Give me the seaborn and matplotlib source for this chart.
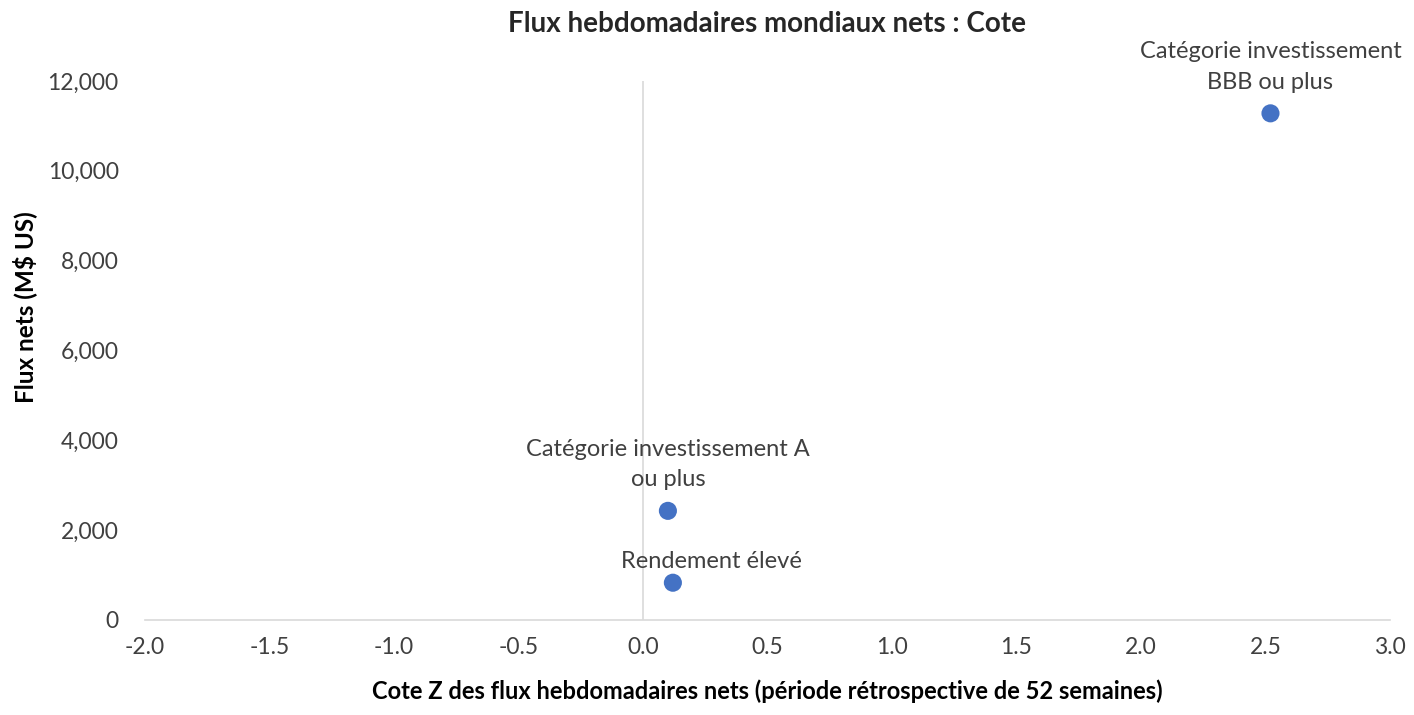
import matplotlib
matplotlib.use("Agg")
import matplotlib.pyplot as plt
import seaborn as sns
import pandas as pd
from matplotlib.ticker import FuncFormatter, MultipleLocator

categories = ["Catégorie investissement\nBBB ou plus",
              "Catégorie investissement A\nou plus",
              "Rendement élevé"]
z_scores = [2.52, 0.10, 0.12]
net_flows = [11280, 2430, 830]

df = pd.DataFrame({"cat": categories, "z": z_scores, "flow": net_flows})

sns.set_theme(style="white")
plt.rcParams['font.family'] = ['Lato', 'DejaVu Sans']

fig = plt.figure(figsize=(14.14, 7.15), dpi=100)
ax = fig.add_axes([145/1414, (715-620)/715, (1390-145)/1414, (620-81)/715])

sns.scatterplot(data=df, x="z", y="flow", ax=ax, color="#4472C4", s=170,
                edgecolor="none", zorder=3)

ax.set_xlim(-2, 3)
ax.set_ylim(0, 12000)
ax.xaxis.set_major_locator(MultipleLocator(0.5))
ax.yaxis.set_major_locator(MultipleLocator(2000))
ax.xaxis.set_major_formatter(FuncFormatter(lambda v, p: f"{v:.1f}"))
ax.yaxis.set_major_formatter(FuncFormatter(lambda v, p: f"{v:,.0f}"))

for s in ["top", "right", "left"]:
    ax.spines[s].set_visible(False)
ax.spines["bottom"].set_color("#d9d9d9")
ax.spines["bottom"].set_linewidth(1.2)
ax.axvline(0, color="#d9d9d9", lw=1.2, zorder=1)
ax.tick_params(axis="both", length=0, labelsize=16.5, colors="#404040")
ax.tick_params(axis="x", pad=12)
ax.tick_params(axis="y", pad=19)

offsets = [(0, 15), (0, 15), (28, 8)]
for cat, x, y, off in zip(categories, z_scores, net_flows, offsets):
    ax.annotate(cat, (x, y), xytext=off, textcoords="offset points",
                ha="center", va="bottom", fontsize=17, color="#404040",
                linespacing=1.55)

ax.set_xlabel("Cote Z des flux hebdomadaires nets (période rétrospective de 52 semaines)",
              fontsize=17, fontweight="bold", color="#000000", labelpad=16)
ax.set_ylabel("Flux nets (M$ US)", fontsize=17.5, fontweight="bold",
              color="#000000", va="center")
ax.yaxis.set_label_coords(-0.0964, 0.58)
fig.suptitle("Flux hebdomadaires mondiaux nets : Cote", fontsize=20,
             fontweight="bold", y=0.985, x=(145+1390)/2/1414)

fig.savefig("out.png", dpi=100, facecolor="white")
